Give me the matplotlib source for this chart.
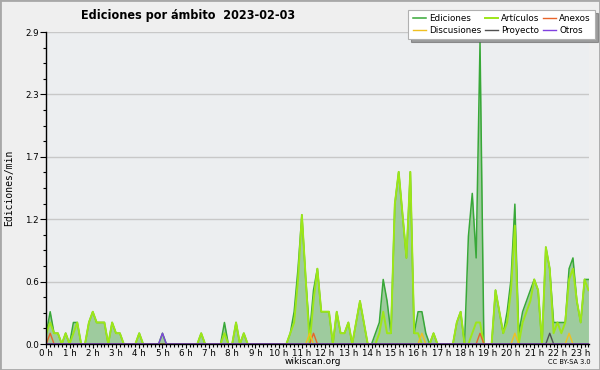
import numpy as np
import matplotlib
matplotlib.use("Agg")
import matplotlib.pyplot as plt
from matplotlib.patches import Rectangle

# 10-minute bins, values in edits per minute (00:00 .. 23:20)
ediciones = [
    0.1, 0.3, 0.1, 0.1, 0.0, 0.1, 0.0, 0.2, 0.2, 0.0,
    0.0, 0.2, 0.3, 0.2, 0.2, 0.2, 0.0, 0.2, 0.1, 0.1,
    0.0, 0.0, 0.0, 0.0, 0.1, 0.0, 0.0, 0.0, 0.0, 0.0,
    0.1, 0.0, 0.0, 0.0, 0.0, 0.0, 0.0, 0.0, 0.0, 0.0,
    0.1, 0.0, 0.0, 0.0, 0.0, 0.0, 0.2, 0.0, 0.0, 0.2,
    0.0, 0.1, 0.0, 0.0, 0.0, 0.0, 0.0, 0.0, 0.0, 0.0,
    0.0, 0.0, 0.0, 0.1, 0.3, 0.7, 1.2, 0.6, 0.1, 0.5,
    0.7, 0.3, 0.3, 0.3, 0.0, 0.3, 0.1, 0.1, 0.2, 0.0,
    0.2, 0.4, 0.2, 0.0, 0.0, 0.1, 0.2, 0.6, 0.4, 0.1,
    1.3, 1.6, 1.2, 0.8, 1.6, 0.1, 0.3, 0.3, 0.1, 0.0,
    0.1, 0.0, 0.0, 0.0, 0.0, 0.0, 0.2, 0.3, 0.0, 1.0,
    1.4, 0.8, 2.8, 0.0, 0.0, 0.0, 0.5, 0.3, 0.1, 0.3,
    0.6, 1.3, 0.1, 0.3, 0.4, 0.5, 0.6, 0.5, 0.0, 0.9,
    0.7, 0.2, 0.2, 0.2, 0.2, 0.7, 0.8, 0.4, 0.2, 0.6,
    0.6,
]
articulos = [
    0.1, 0.2, 0.1, 0.1, 0.0, 0.1, 0.0, 0.1, 0.2, 0.0,
    0.0, 0.2, 0.3, 0.2, 0.2, 0.2, 0.0, 0.2, 0.1, 0.1,
    0.0, 0.0, 0.0, 0.0, 0.1, 0.0, 0.0, 0.0, 0.0, 0.0,
    0.0, 0.0, 0.0, 0.0, 0.0, 0.0, 0.0, 0.0, 0.0, 0.0,
    0.1, 0.0, 0.0, 0.0, 0.0, 0.0, 0.1, 0.0, 0.0, 0.2,
    0.0, 0.1, 0.0, 0.0, 0.0, 0.0, 0.0, 0.0, 0.0, 0.0,
    0.0, 0.0, 0.0, 0.1, 0.2, 0.6, 1.2, 0.6, 0.0, 0.4,
    0.7, 0.3, 0.3, 0.3, 0.0, 0.3, 0.1, 0.1, 0.2, 0.0,
    0.2, 0.4, 0.2, 0.0, 0.0, 0.0, 0.1, 0.3, 0.1, 0.1,
    1.3, 1.6, 1.2, 0.8, 1.6, 0.1, 0.1, 0.0, 0.0, 0.0,
    0.1, 0.0, 0.0, 0.0, 0.0, 0.0, 0.2, 0.3, 0.0, 0.0,
    0.1, 0.2, 0.2, 0.0, 0.0, 0.0, 0.5, 0.3, 0.1, 0.2,
    0.5, 1.1, 0.0, 0.2, 0.3, 0.4, 0.6, 0.5, 0.0, 0.9,
    0.7, 0.1, 0.2, 0.1, 0.2, 0.6, 0.7, 0.4, 0.2, 0.6,
    0.5,
]
# sparse series: {bin index: value}
anexos = {1: 0.1, 69: 0.1, 112: 0.1}
discusiones = {68: 0.1, 97: 0.1, 121: 0.1, 135: 0.1}
proyecto = {130: 0.1}
otros = {30: 0.1}

n = len(ediciones)
hours = np.arange(n) / 6.0


def dense(d):
    arr = np.zeros(n)
    for k, v in d.items():
        arr[k] = v
    return arr


plt.rcParams["font.family"] = "DejaVu Sans"
fig = plt.figure(figsize=(6, 3.7), dpi=100, facecolor="#efefef")
ax = fig.add_axes([46.3 / 600, 1 - 344 / 370, 543 / 600, 312 / 370])
ax.set_facecolor("#eceef0")

ax.fill_between(hours, ediciones, 0, color="#9ecb9e", lw=0, zorder=1)
ax.plot(hours, ediciones, color="#38a838", lw=1.1, label="Ediciones", zorder=2)
ax.plot(hours, articulos, color="#9de619", lw=1.4, label="Artículos", zorder=3)
ax.plot(hours, dense(anexos), color="#e8642a", lw=1, label="Anexos", zorder=3)
ax.plot(hours, dense(discusiones), color="#f0c020", lw=1, label="Discusiones", zorder=3)
ax.plot(hours, dense(proyecto), color="#505050", lw=1, label="Proyecto", zorder=3)
ax.plot(hours, dense(otros), color="#8040e0", lw=1, label="Otros", zorder=3)

ax.set_xlim(0, 23.37)
ax.set_ylim(0, 2.9)
yt = np.linspace(0, 2.9, 6)
ax.set_yticks(yt)
ax.set_yticklabels([f"{v:.1f}" for v in yt])
ax.set_yticks(np.linspace(0, 2.9, 21), minor=True)
ax.set_xticks(range(24))
ax.set_xticklabels([f"{h} h" for h in range(24)])
ax.set_xticks(np.arange(0, 23.4, 1 / 6), minor=True)
for v in yt[1:]:
    ax.axhline(v, color="#c8c8c8", lw=1, zorder=0.5)

for s in ["top", "right"]:
    ax.spines[s].set_visible(False)
for s in ["left", "bottom"]:
    ax.spines[s].set_color("black")
    ax.spines[s].set_linewidth(1)
    ax.spines[s].set_zorder(5)
ax.tick_params(which="major", direction="out", length=3, width=0.8, labelsize=6.3, pad=0.8)
ax.tick_params(which="minor", direction="out", length=2.2, width=0.8)
ax.tick_params(axis="y", which="major", length=4, pad=1.2)

ax.set_ylabel("Ediciones/min", fontsize=7, family="DejaVu Sans Mono")
ax.yaxis.set_label_coords(-32 / 543, 0.5)

fig.text(188 / 600, 1 - 15 / 370, "Ediciones por ámbito  2023-02-03", ha="center", va="center",
         fontsize=9, fontweight="bold", fontstretch="condensed")
fig.text(313 / 600, 1 - 361.5 / 370, "wikiscan.org", ha="center", va="center", fontsize=6.5)
fig.text(569 / 600, 1 - 362 / 370, "CC BY-SA 3.0", ha="center", va="center", fontsize=4.8)

handles, labels = ax.get_legend_handles_labels()
order = [0, 3, 1, 4, 2, 5]
leg = fig.legend([handles[i] for i in order], [labels[i] for i in order],
                 loc="upper right", bbox_to_anchor=(595 / 600, 1 - 10 / 370), ncol=3,
                 fontsize=6.3, frameon=True, fancybox=False, shadow=True,
                 handlelength=1.5, handletextpad=0.35, columnspacing=0.4,
                 labelspacing=0.3, borderpad=0.5, borderaxespad=0)
leg.get_frame().set_edgecolor("#b0b0b0")
leg.get_frame().set_linewidth(0.8)

fig.patches.append(Rectangle((0, 0), 1, 1, transform=fig.transFigure, fill=False,
                             edgecolor="#a8a8a8", lw=2))

fig.savefig("out.png", dpi=100, facecolor=fig.get_facecolor())
